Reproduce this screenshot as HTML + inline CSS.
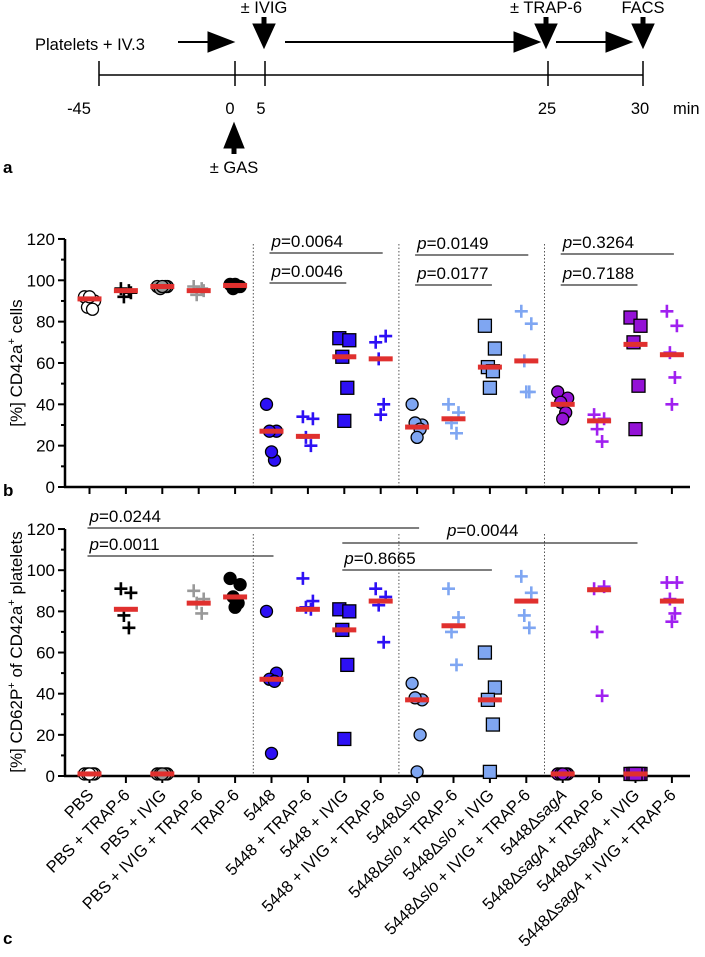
<!DOCTYPE html>
<html><head><meta charset="utf-8"><style>
body{margin:0;background:#fff;}
svg text{font-family:"Liberation Sans",sans-serif;}
</style></head><body>
<svg id="fig" width="705" height="952" viewBox="0 0 705 952" xmlns="http://www.w3.org/2000/svg">
<g stroke="#000" fill="#000">
<line x1="99" y1="75" x2="643" y2="75" stroke-width="1.5"/>
<line x1="99" y1="61" x2="99" y2="86" stroke-width="1.5"/>
<line x1="235" y1="61" x2="235" y2="86" stroke-width="1.5"/>
<line x1="265" y1="61" x2="265" y2="86" stroke-width="1.5"/>
<line x1="548" y1="61" x2="548" y2="86" stroke-width="1.5"/>
<line x1="643" y1="61" x2="643" y2="86" stroke-width="1.5"/>
<line x1="178" y1="42" x2="212" y2="42" stroke-width="2"/><polygon points="208,32 234,42 208,52"/>
<line x1="285" y1="42" x2="518" y2="42" stroke-width="2"/><polygon points="514,32 540,42 514,52"/>
<line x1="556" y1="42" x2="610" y2="42" stroke-width="2"/><polygon points="606,32 632,42 606,52"/>
<line x1="264" y1="17" x2="264" y2="26" stroke-width="5"/><polygon points="253,24 275,24 264,48"/>
<line x1="546" y1="17" x2="546" y2="26" stroke-width="5"/><polygon points="535,24 557,24 546,48"/>
<line x1="643" y1="17" x2="643" y2="26" stroke-width="5"/><polygon points="632,24 654,24 643,48"/>
<line x1="234" y1="145" x2="234" y2="154" stroke-width="5"/><polygon points="224,148 244,148 234,123"/>
</g>
<g font-size="16.5" fill="#000">
<text x="35" y="50">Platelets + IV.3</text>
<text x="264" y="13" text-anchor="middle">± IVIG</text>
<text x="546" y="13" text-anchor="middle">± TRAP-6</text>
<text x="643" y="13" text-anchor="middle">FACS</text>
<text x="79" y="114" text-anchor="middle">-45</text>
<text x="230" y="114" text-anchor="middle">0</text>
<text x="261" y="114" text-anchor="middle">5</text>
<text x="547" y="114" text-anchor="middle">25</text>
<text x="640" y="114" text-anchor="middle">30</text>
<text x="673" y="114">min</text>
<text x="234" y="173" text-anchor="middle">± GAS</text>
</g>
<text x="3" y="173" font-size="17" font-weight="bold">a</text>
<text x="3" y="496" font-size="17" font-weight="bold">b</text>
<text x="3" y="944" font-size="17" font-weight="bold">c</text>
<g id="charts"></g>
</svg>
<script>
const categories = ["PBS","PBS + TRAP-6","PBS + IVIG","PBS + IVIG + TRAP-6","TRAP-6","5448","5448 + TRAP-6","5448 + IVIG","5448 + IVIG + TRAP-6","5448Δslo","5448Δslo + TRAP-6","5448Δslo + IVIG","5448Δslo + IVIG + TRAP-6","5448ΔsagA","5448ΔsagA + TRAP-6","5448ΔsagA + IVIG","5448ΔsagA + IVIG + TRAP-6"];
const bValues = [[92,90,87,86,92],[96,94,92,95],[97,97,96,97,97],[97,95,93,96],[98,97,96,97,98],[40,27,27,13,17],[34,33,24,20],[72,71,63,48,32],[70,73,62,40,35],[40,30,31,28,24],[40,36,31,26],[78,67,58,56,48],[85,79,61,46,46],[46,43,41,36,33],[35,33,28,22],[82,78,70,49,28],[85,78,65,53,40]];
const bMedians = [91,95,97,95,97.5,27,24.5,63,62,29,33,58,61,40,32,69,64];
const cValues = [[1,1,1,1,1],[91,89,78,72],[1,1,1,1,1],[90,86,84,79],[96,93,87,84,82],[80,50,47,46,11],[96,85,82,81],[81,80,71,54,18],[91,87,83,65],[45,37,38,20,2],[91,77,70,54],[60,43,37,25,2],[97,89,78,72],[1,1,1,1,1],[91,92,70,39],[1,1,1,1,1],[94,94,86,79,75]];
const cMedians = [1,81,1,84,87,47,81,71,85,37,73,37,85,1,90.5,1,85];
const yTicks = [0,20,40,60,80,100,120];
const bBrackets = [["p=0.0064",5,8],["p=0.0046",5,7],["p=0.0149",9,12],["p=0.0177",9,11],["p=0.3264",13,16],["p=0.7188",13,15]];
const cBrackets = [["p=0.0244",0,9],["p=0.0011",0,5],["p=0.0044",7,15],["p=0.8665",7,11]];

const shapes = ["circle","plus","circle","plus","circle","circle","plus","square","plus","circle","plus","square","plus","circle","plus","square","plus"];
const fills = ["#fff","#000","#999","#999","#000","#2d10f5","#2d10f5","#2d10f5","#2d10f5","#7fa6f2","#7fa6f2","#7fa6f2","#7fa6f2","#9412d6","#a020f0","#9412d6","#a020f0"];
const NS="http://www.w3.org/2000/svg";
const root=document.getElementById('charts');
function mk(tag,attrs,parent){const e=document.createElementNS(NS,tag);for(const k in attrs)e.setAttribute(k,attrs[k]);(parent||root).appendChild(e);return e;}
function xPos(i){return 89.5+36.4*i;}
function yB(v){return 487-v*2.067;}
function yC(v){return 776-v*2.058;}
const jit=[-5,5,-2,3,0];
function drawPanel(vals,meds,yf,top,bottom,name){
  const g=mk('g',{});
  
  
  [4.5,8.5,12.5].forEach(s=>{const l=mk('line',{x1:xPos(s),x2:xPos(s),y1:top+5,y2:bottom,stroke:'#555','stroke-width':1,'stroke-dasharray':'1.5,2'},g);
    
    });
  const ya=mk('line',{x1:65,x2:65,y1:yf(120),y2:bottom+1,stroke:'#000','stroke-width':2.5},g);
  
  
  const xa=mk('line',{x1:64,x2:690,y1:bottom,y2:bottom,stroke:'#000','stroke-width':2.5},g);
  
  
  for(let v=0;v<=120;v+=10){mk('line',{x1:v%20?61:58,x2:65,y1:yf(v),y2:yf(v),stroke:'#000','stroke-width':2},g);}
  yTicks.forEach(v=>{const t=mk('text',{x:55,y:yf(v)+6,'text-anchor':'end','font-size':17},g);t.textContent=v;
    
    });
  categories.forEach((c,i)=>{mk('line',{x1:xPos(i),x2:xPos(i),y1:bottom,y2:bottom+7,stroke:'#000','stroke-width':2},g);});
  vals.forEach((arr,i)=>{
    arr.forEach((v,j)=>{
      const x=xPos(i)+jit[j%5]*(arr.length>1?1:0),y=yf(v);let m;
      if(shapes[i]==='circle'){m=mk('circle',{cx:x,cy:y,r:6,fill:fills[i],stroke:'#000','stroke-width':1.3},g);}
      else if(shapes[i]==='square'){m=mk('rect',{x:x-6.5,y:y-6.5,width:13,height:13,fill:fills[i],stroke:'#000','stroke-width':1.3},g);}
      else{m=mk('path',{d:`M${x-6.5},${y}H${x+6.5}M${x},${y-6.5}V${y+6.5}`,stroke:fills[i],'stroke-width':2.6,fill:'none'},g);}
      
      
    });
    const md=mk('rect',{x:xPos(i)-12,y:yf(meds[i])-2.5,width:24,height:5,fill:'#e0302e'},g);
    
    
  });
}
drawPanel(bValues,bMedians,yB,239,487,'chart-cd42a');
drawPanel(cValues,cMedians,yC,529,776,'chart-cd62p');
function bracket(b,yLine,name,tx,ty){
  const g=mk('g',{});
  
  
  const x1=xPos(b[1])-2,x2=xPos(b[2])+2;
  mk('line',{x1:x1,x2:x2,y1:yLine,y2:yLine,stroke:'#333','stroke-width':1.2},g);
  const t=mk('text',{x:tx===undefined?x1+2:tx,y:ty===undefined?yLine-6:ty,'font-size':17},g);
  const ti=mk('tspan',{'font-style':'italic'},t);ti.textContent='p';
  const tr=mk('tspan',{},t);tr.textContent=b[0].slice(1);
}
bracket(bBrackets[0],253,'p-value-bracket');bracket(bBrackets[1],283,'p-value-bracket');
bracket(bBrackets[2],255,'p-value-bracket');bracket(bBrackets[3],285,'p-value-bracket');
bracket(bBrackets[4],254,'p-value-bracket');bracket(bBrackets[5],285,'p-value-bracket');
bracket(cBrackets[0],528,'p-value-bracket');bracket(cBrackets[1],556,'p-value-bracket');
bracket(cBrackets[2],543,'p-value-bracket',447,536);
bracket(cBrackets[3],570,'p-value-bracket');
const t1=mk('text',{x:0,y:0,'font-size':17,'text-anchor':'middle',transform:'translate(22,363) rotate(-90)'});


t1.innerHTML='[%] CD42a<tspan dy="-7" font-size="11">+</tspan><tspan dy="7"> cells</tspan>';
const t2=mk('text',{x:0,y:0,'font-size':17,'text-anchor':'middle',transform:'translate(22,652) rotate(-90)'});


t2.innerHTML='[%] CD62P<tspan dy="-7" font-size="11">+</tspan><tspan dy="7"> of CD42a</tspan><tspan dy="-7" font-size="11">+</tspan><tspan dy="7"> platelets</tspan>';
categories.forEach((c,i)=>{
  const t=mk('text',{x:0,y:0,'font-size':16.5,'text-anchor':'end',transform:`translate(${xPos(i)+5},${796}) rotate(-45)`});
  
  
  let m=c.match(/^(5448Δ)(slo|sagA)(.*)$/);
  if(m){const a=mk('tspan',{},t);a.textContent=m[1];const b=mk('tspan',{'font-style':'italic'},t);b.textContent=m[2];const r=mk('tspan',{},t);r.textContent=m[3];}
  else t.textContent=c;
});
</script>
</body></html>
